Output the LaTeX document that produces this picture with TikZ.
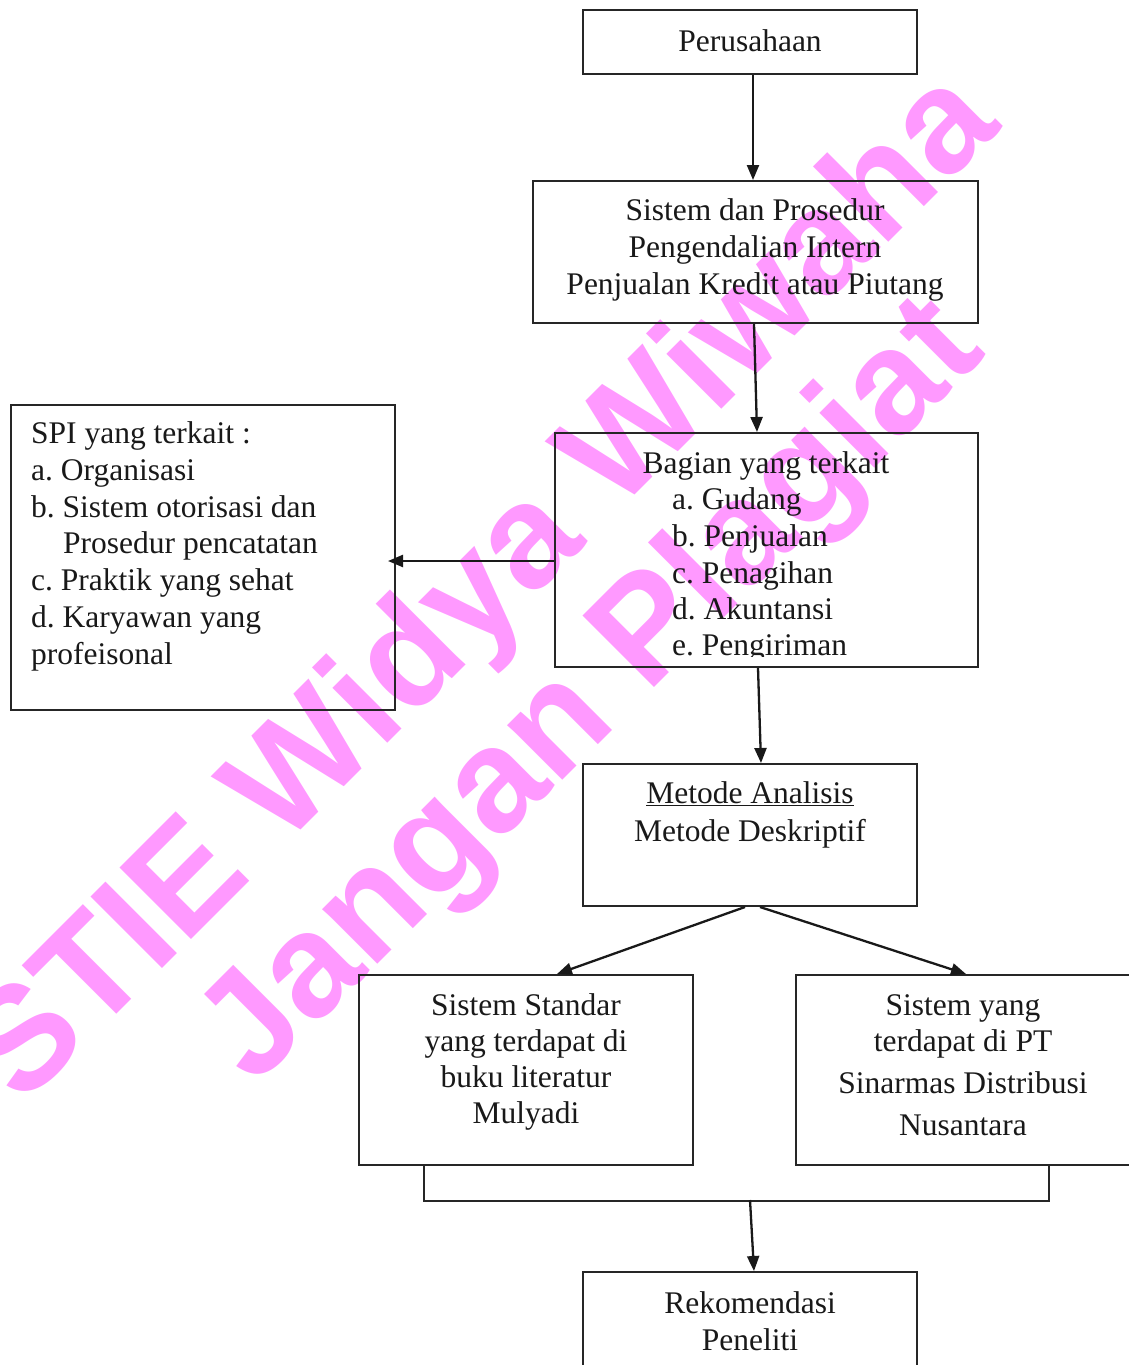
\documentclass[tikz,border=0pt]{standalone}
\usepackage{fontspec}
\setmainfont{Liberation Serif}
\newfontfamily\wmfont{Liberation Sans}
\usetikzlibrary{arrows.meta}
\definecolor{wmpink}{RGB}{255,153,255}
\frenchspacing

\begin{document}
\begin{tikzpicture}[x=1pt,y=-1pt,
  box/.style={draw=black!85, line width=2pt, inner sep=0pt},
  txt/.style={font=\fontsize{31.5}{37}\selectfont, inner sep=0pt, anchor=base, text=black!90},
  ltxt/.style={txt, anchor=base west},
  arr/.style={draw=black!90, line width=2.3pt, -{Triangle[length=15pt,width=12pt]}},
  wm/.style={font=\wmfont\bfseries\fontsize{147}{147}\selectfont, text=wmpink, rotate=45, inner sep=0pt}
]
\useasboundingbox (0,0) rectangle (1129,1365);

% watermark
\node[wm] (wm1) at (486,591) {STIE Widya Wiwaha};
\node[wm] (wm2) at (595,694) {Jangan Plagiat};

% boxes
\node[box, minimum width=334, minimum height=64]  (per) at (750,42) {};
\node[box, minimum width=445, minimum height=142] (sis) at (755.5,252) {};
\node[box, minimum width=423, minimum height=234] (bag) at (766.5,550) {};
\node[box, minimum width=384, minimum height=305] (spi) at (203,557.5) {};
\node[box, minimum width=334, minimum height=142] (met) at (750,835) {};
\node[box, minimum width=334, minimum height=190] (std) at (526,1070) {};
\node[box, minimum width=335, minimum height=190] (pt)  at (963.5,1070) {};
\node[box, minimum width=334, minimum height=142] (rek) at (750,1343) {};

% texts
\node[txt] (perT) at (750,51) {Perusahaan};

\node[txt] (sisT1) at (755,220) {Sistem dan Prosedur};
\node[txt] (sisT2) at (755,257) {Pengendalian Intern};
\node[txt] (sisT3) at (755,294) {Penjualan Kredit atau Piutang};

\node[txt] (bagT0) at (766,473) {Bagian yang terkait};
\begin{scope}
  \clip (555,433) rectangle (978,656);
  \node[ltxt] (bagT1) at (672,509) {a. Gudang};
  \node[ltxt] (bagT2) at (672,546) {b. Penjualan};
  \node[ltxt] (bagT3) at (672,583) {c. Penagihan};
  \node[ltxt] (bagT4) at (672,619) {d. Akuntansi};
  \node[ltxt] (bagT5) at (672,655) {e. Pengiriman};
\end{scope}

\node[ltxt] (spiT0) at (31,443) {SPI yang terkait :};
\node[ltxt] (spiT1) at (31,480) {a. Organisasi};
\node[ltxt] (spiT2) at (31,517) {b. Sistem otorisasi dan};
\node[ltxt] (spiT3) at (63,553) {Prosedur pencatatan};
\node[ltxt] (spiT4) at (31,590) {c. Praktik yang sehat};
\node[ltxt] (spiT5) at (31,627) {d. Karyawan yang};
\node[ltxt] (spiT6) at (31,664) {profeisonal};

\node[txt] (metT1) at (750,803) {\underline{Metode Analisis}};
\node[txt] (metT2) at (750,841) {Metode Deskriptif};

\node[txt] (stdT1) at (526,1015) {Sistem Standar};
\node[txt] (stdT2) at (526,1051) {yang terdapat di};
\node[txt] (stdT3) at (526,1087) {buku literatur};
\node[txt] (stdT4) at (526,1123) {Mulyadi};

\node[txt] (ptT1) at (963,1015) {Sistem yang};
\node[txt] (ptT2) at (963,1051) {terdapat di PT};
\node[txt] (ptT3) at (963,1093) {Sinarmas Distribusi};
\node[txt] (ptT4) at (963,1135) {Nusantara};

\node[txt] (rekT1) at (750,1313) {Rekomendasi};
\node[txt] (rekT2) at (750,1350) {Peneliti};

% connectors
\draw[arr] ([xshift=3pt]per.south) -- ([xshift=-2.5pt]sis.north);
\draw[arr] ([xshift=-1.5pt]sis.south) -- ([xshift=-9.5pt]bag.north);
\draw[arr] ([yshift=-11pt]bag.west) -- ([xshift=-8pt,yshift=-3.5pt]spi.east);
\draw[arr] ([xshift=-8.5pt]bag.south) -- ([xshift=11pt]met.north);
\draw[arr] ([xshift=-5pt]met.south) -- ([xshift=31pt]std.north);
\draw[arr] ([xshift=10pt]met.south) -- ([xshift=2.5pt]pt.north);
\draw[draw=black!85, line width=2pt] ([xshift=-102pt]std.south) -- ++(0,35) coordinate (brL)
  -| ([xshift=85.5pt]pt.south);
\coordinate (join) at (750,1200);
\draw[arr] (join) -- ([xshift=4pt]rek.north);
\end{tikzpicture}
\end{document}
